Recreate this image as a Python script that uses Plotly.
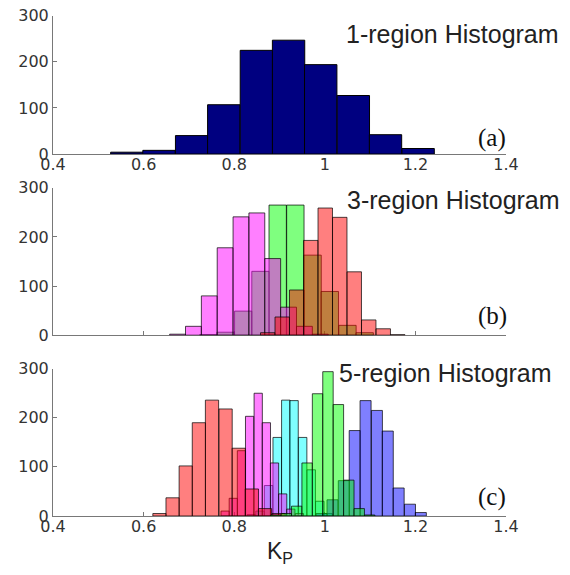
import plotly.graph_objects as go
import numpy as np

# ---------------- data ----------------
# Panel (a): 1-region histogram (bin centres of K_P, counts)
a_k = [0.563, 0.634, 0.706, 0.777, 0.849, 0.920, 0.991, 1.063, 1.134, 1.206]
a_n = [4, 8, 40, 107, 225, 247, 194, 127, 42, 12]

# Panel (b): 3-region histograms
b_green_k = [0.743, 0.781, 0.820, 0.858, 0.896, 0.935, 0.973, 1.011, 1.050, 1.088]
b_green_n = [1, 6, 49, 130, 265, 265, 163, 89, 20, 5]
b_mag_k = [0.675, 0.710, 0.745, 0.780, 0.815, 0.850, 0.885, 0.920, 0.955, 0.990]
b_mag_n = [2, 18, 80, 178, 241, 249, 156, 57, 18, 2]
b_red_k = [0.874, 0.906, 0.938, 0.969, 1.001, 1.033, 1.065, 1.097, 1.129, 1.161]
b_red_n = [5, 37, 92, 193, 259, 240, 129, 31, 13, 1]

# Panel (c): 5-region histograms
c_cyan_k = [0.838, 0.857, 0.876, 0.895, 0.914, 0.932, 0.951, 0.970, 0.989, 1.007]
c_cyan_n = [3, 10, 62, 160, 236, 235, 160, 94, 30, 5]
c_blue_k = [0.993, 1.017, 1.042, 1.066, 1.090, 1.115, 1.139, 1.163, 1.188, 1.212]
c_blue_n = [5, 33, 72, 174, 235, 215, 173, 57, 24, 7]
c_mag_k = [0.780, 0.798, 0.816, 0.834, 0.853, 0.871, 0.889, 0.907, 0.925, 0.944]
c_mag_n = [10, 36, 133, 203, 250, 190, 108, 45, 14, 5]
c_red_k = [0.635, 0.664, 0.693, 0.722, 0.751, 0.781, 0.810, 0.839, 0.868, 0.898]
c_red_n = [5, 37, 102, 190, 236, 218, 138, 55, 15, 5]
c_green_k = [0.892, 0.915, 0.938, 0.961, 0.984, 1.007, 1.030, 1.053, 1.076, 1.099]
c_green_n = [2, 5, 20, 108, 249, 294, 227, 73, 15, 2]

x_ticks = [0.4, 0.6, 0.8, 1.0, 1.2, 1.4]
x_ticktext = ["0.4", "0.6", "0.8", "1", "1.2", "1.4"]
y_ticks = [0, 100, 200, 300]

titles = ["1-region Histogram", "3-region Histogram", "5-region Histogram"]
tags = ["(a)", "(b)", "(c)"]

# ---------------- figure ----------------
W, H = 570, 575
L, R = 53, 64

def py(p):  # pixel row -> paper y
    return 1 - p / H

EDGE = "rgba(0,0,0,0.7)"

fig = go.Figure()

def add_hist(k, n, color, axis, edge=EDGE):
    k = np.asarray(k, dtype=float)
    w = float(np.mean(np.diff(k)))
    fig.add_trace(go.Bar(
        x=k, y=n, width=[w] * len(k),
        marker=dict(color=color, line=dict(color=edge, width=1)),
        xaxis="x" + axis, yaxis="y" + axis, showlegend=False,
        hoverinfo="x+y"))

# (a)
add_hist(a_k, a_n, "rgb(0,0,128)", "", edge="rgb(0,0,0)")
# (b)
add_hist(b_green_k, b_green_n, "rgba(0,255,0,0.5)", "2")
add_hist(b_mag_k, b_mag_n, "rgba(255,0,255,0.5)", "2")
add_hist(b_red_k, b_red_n, "rgba(255,0,0,0.5)", "2")
# (c)
add_hist(c_cyan_k, c_cyan_n, "rgba(0,255,255,0.5)", "3")
add_hist(c_blue_k, c_blue_n, "rgba(0,0,255,0.5)", "3")
add_hist(c_mag_k, c_mag_n, "rgba(255,0,255,0.5)", "3")
add_hist(c_red_k, c_red_n, "rgba(255,0,0,0.5)", "3")
add_hist(c_green_k, c_green_n, "rgba(0,255,0,0.5)", "3")

AX = "rgb(120,120,120)"
TICKFONT = dict(family="DejaVu Sans", size=16, color="#333333")

def xax(show_labels, anchor):
    return dict(range=[0.4, 1.4], domain=[0, 1], anchor=anchor,
                tickvals=x_ticks, ticktext=x_ticktext,
                showticklabels=show_labels, ticks="inside", ticklen=4,
                tickcolor=AX, showline=True, linecolor=AX, linewidth=1,
                showgrid=False, zeroline=False, layer="below traces",
                tickfont=TICKFONT, ticklabelstandoff=-4, fixedrange=True)

def yax(dom, anchor):
    return dict(range=[0, 300], domain=dom, anchor=anchor,
                tickvals=y_ticks, ticks="inside", ticklen=4, tickcolor=AX,
                showline=True, linecolor=AX, linewidth=1, showgrid=False,
                zeroline=False, layer="below traces", tickfont=TICKFONT,
                fixedrange=True)

dom_a = [py(150), py(7)]
dom_b = [py(337.3), py(185)]
dom_c = [py(524.3), py(372)]

fig.update_layout(
    width=W, height=H,
    margin=dict(l=L, r=R, t=0, b=0),
    paper_bgcolor="white", plot_bgcolor="white",
    barmode="overlay",
    xaxis=xax(True, "y"), yaxis=yax(dom_a, "x"),
    xaxis2=xax(False, "y2"), yaxis2=yax(dom_b, "x2"),
    xaxis3=xax(True, "y3"), yaxis3=yax(dom_c, "x3"),
)

pw = W - L - R
def px(p):  # pixel col -> paper x
    return (p - L) / pw

TFONT = dict(family="Liberation Sans", size=25, color="#222222")
for t, (xr, yc) in zip(titles, [(561, 26), (562, 198), (554, 376)]):
    fig.add_annotation(text=t, x=px(xr), y=py(yc), xref="paper", yref="paper",
                       xanchor="right", yanchor="middle", showarrow=False,
                       font=TFONT)

GFONT = dict(family="Liberation Serif", size=25, color="#111111")
for t, yc in zip(tags, [133, 317, 505]):
    fig.add_annotation(text=t, x=px(492), y=py(yc), xref="paper", yref="paper",
                       xanchor="center", yanchor="middle", showarrow=False,
                       font=GFONT)

fig.add_annotation(text="K<sub>P</sub>", x=px(280), y=py(562), xref="paper",
                   yref="paper", xanchor="center", yanchor="middle",
                   showarrow=False,
                   font=dict(family="Liberation Sans", size=23, color="#222222"))

fig.write_html("out.html")
